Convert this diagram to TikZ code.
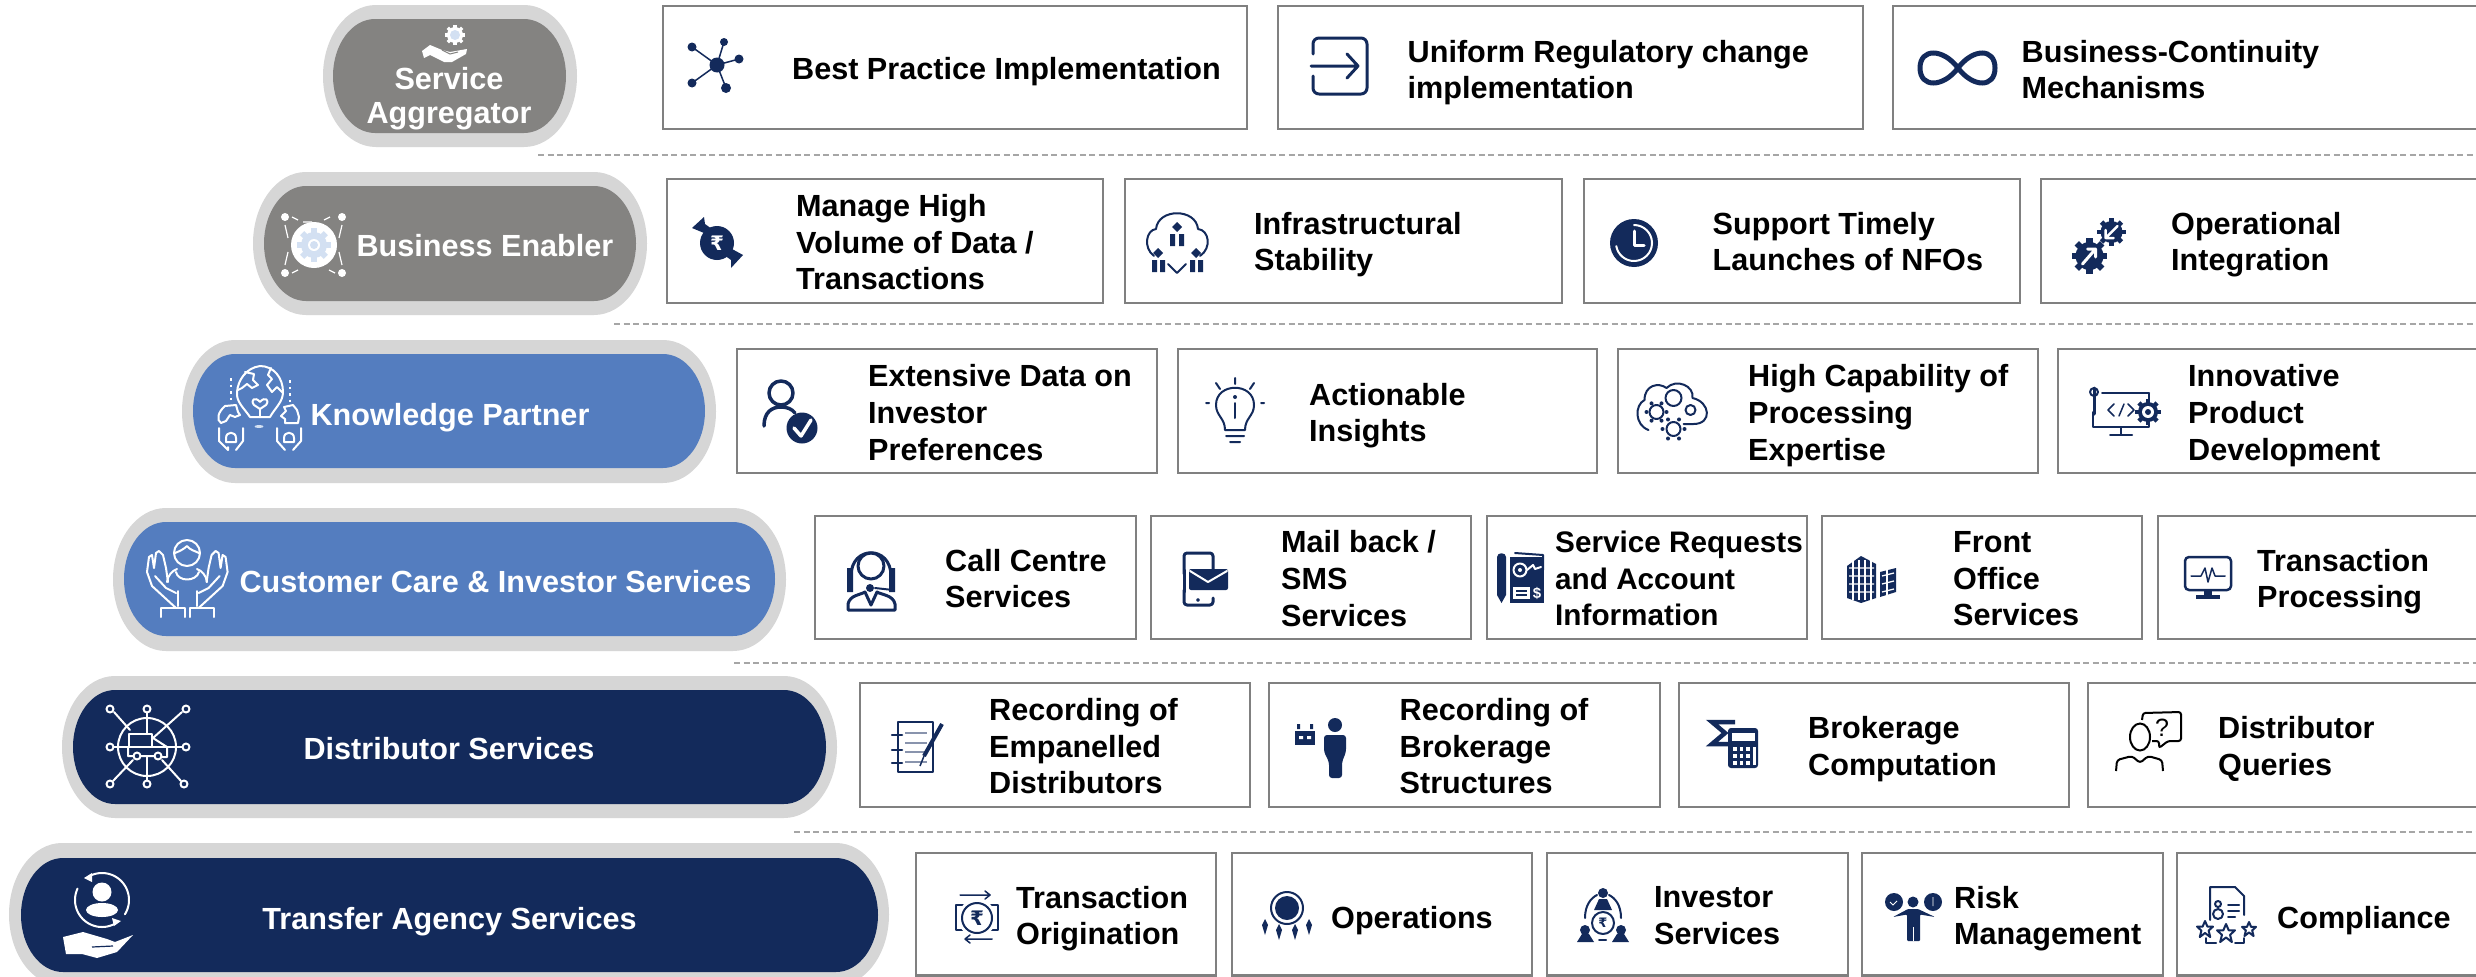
\documentclass[tikz,border=0pt]{standalone}
\usepackage{fontspec}
\setmainfont{Liberation Sans}
\newfontfamily\djv{DejaVu Sans}
\definecolor{navy}{HTML}{132A5B}
\definecolor{midblue}{HTML}{547DBF}
\definecolor{stone}{HTML}{848381}
\definecolor{halo}{HTML}{D6D6D6}
\definecolor{edge}{HTML}{808080}
\definecolor{dash}{HTML}{A6A6A6}
\definecolor{pale}{HTML}{D3E0F2}
\tikzset{
 cardbox/.style={draw=edge,line width=2.6pt,fill=white,anchor=north west,inner sep=0pt,outer sep=0pt},
 cardtext/.style={anchor=west,yshift=-5.5pt,inner sep=0pt,align=left,text=black,font=\fontsize{30.6}{36.7}\selectfont\bfseries,execute at begin node=\strut,execute at end node=\strut},
 pilltext/.style={yshift=-5.5pt,inner sep=0pt,align=center,text=white,font=\fontsize{30.6}{34}\selectfont\bfseries,execute at begin node=\strut,execute at end node=\strut},
 sep/.style={draw=dash,line width=2pt,dash pattern=on 6pt off 3.5pt},
 ic/.style={draw=navy,line width=2pt,line cap=round,line join=round},
 wl/.style={draw=white,line width=2pt,line cap=round,line join=round},
}
\newcommand\card[5]{\pgfmathsetmacro\cw{#4-#2}\pgfmathsetmacro\ch{#5-#3}%
 \node[cardbox,minimum width=\cw pt,minimum height=\ch pt] (#1) at (#2,#3) {};}
\newcommand\pillpath[6]{% x1 y1 x2 y2 rx colour
 \pgfmathsetmacro\pa{#1+#5}\pgfmathsetmacro\pb{#3-#5}\pgfmathsetmacro\pm{(#2+#4)/2}%
 \pgfmathsetmacro\pr{(#4-#2)/2*0.5523}\pgfmathsetmacro\pk{#5*0.5523}%
 \fill[#6] (\pa,#2) -- (\pb,#2) .. controls ({\pb+\pk},#2) and (#3,{\pm-\pr}) .. (#3,\pm)
  .. controls (#3,{\pm+\pr}) and ({\pb+\pk},#4) .. (\pb,#4) -- (\pa,#4)
  .. controls ({\pa-\pk},#4) and (#1,{\pm+\pr}) .. (#1,\pm)
  .. controls (#1,{\pm-\pr}) and ({\pa-\pk},#2) .. (\pa,#2) -- cycle;}
\newcommand\pillpair[9]{% outer x1 y1 x2 y2, inner x1 y1 x2 y2, colour
 \pillpath{#1}{#2}{#3}{#4}{53}{halo}\pillpath{#5}{#6}{#7}{#8}{42}{#9}}
\newcommand\cog[4]{\begin{scope}[shift={(#1,#2)}]
 \fill[#4] (0,0) circle[radius=#3];
 \foreach \a in {0,45,...,315}{\fill[#4,rotate=\a] ({-.22*#3},{-1.28*#3}) rectangle ({.22*#3},0);}
 \end{scope}}
\newcommand\ringcog[5]{\cog{#1}{#2}{#3}{#4}\fill[#5] (#1,#2) circle[radius={.6*#3}];}
\newcommand\dia[3]{\fill[navy] (#1,{#2-#3}) -- ({#1+#3},#2) -- (#1,{#2+#3}) -- ({#1-#3},#2) -- cycle;}
\begin{document}
\begin{tikzpicture}[x=1pt,y=-1pt]
\clip (0,0) rectangle (2476,977);
\fill[white] (0,0) rectangle (2476,977);
% separators
\foreach \n/\xs/\ys in {a/538/155,b/614/324,c/734/663,d/794/832}{
 \coordinate (s\n l) at (\xs,\ys); \coordinate (s\n r) at (2476,\ys);
 \draw[sep] (s\n l) -- (s\n r);}
% pills
\pillpair{323}{5}{577}{147}{333}{19}{566}{133}{stone}
\pillpair{253}{172}{647}{315}{264}{186}{636}{301}{stone}
\pillpair{182}{340}{716}{483}{193}{354}{705}{468}{midblue}
\pillpair{113}{508}{786}{651}{124}{522}{775}{636}{midblue}
\pillpair{62}{676}{837}{818}{73}{690}{826}{804}{navy}
\pillpair{9}{843}{889}{986}{21}{858}{878}{972}{navy}
\node[pilltext] (tAgg) at (449,95) {Service\\Aggregator};
\node[pilltext] (tBiz) at (485,244.5) {Business Enabler};
\node[pilltext] (tKno) at (450,413) {Knowledge Partner};
\node[pilltext] (tCus) at (495.5,580) {Customer Care \& Investor Services};
\node[pilltext] (tDis) at (449,747) {Distributor Services};
\node[pilltext] (tTra) at (449.5,917) {Transfer Agency Services};
% cards
\card{c11}{663}{6}{1247}{129}\card{c12}{1278}{6}{1863}{129}\card{c13}{1893}{6}{2500}{129}
\card{c21}{667}{179}{1103}{303}\card{c22}{1125}{179}{1562}{303}\card{c23}{1584}{179}{2020}{303}\card{c24}{2041}{179}{2500}{303}
\card{c31}{737}{349}{1157}{473}\card{c32}{1178}{349}{1597}{473}\card{c33}{1618}{349}{2038}{473}\card{c34}{2058}{349}{2500}{473}
\card{c41}{815}{516}{1136}{639}\card{c42}{1151}{516}{1471}{639}\card{c43}{1487}{516}{1807}{639}\card{c44}{1822}{516}{2142}{639}\card{c45}{2158}{516}{2500}{639}
\card{c51}{860}{683}{1250}{807}\card{c52}{1269}{683}{1660}{807}\card{c53}{1679}{683}{2069}{807}\card{c54}{2088}{683}{2500}{807}
\card{c61}{916}{853}{1216}{975.5}\card{c62}{1232}{853}{1532}{975.5}\card{c63}{1547}{853}{1848}{975.5}\card{c64}{1862}{853}{2163}{975.5}\card{c65}{2177}{853}{2500}{975.5}
% card texts
\node[cardtext,yshift=1.5pt] (x11) at (792,68) {Best Practice Implementation};
\node[cardtext] (x12) at (1407.5,69.5) {Uniform Regulatory change\\implementation};
\node[cardtext] (x13) at (2021.5,69.5) {Business-Continuity\\Mechanisms};
\node[cardtext] (x21) at (796,242) {Manage High\\Volume of Data /\\Transactions};
\node[cardtext] (x22) at (1254,241.5) {Infrastructural\\Stability};
\node[cardtext] (x23) at (1712.5,241.5) {Support Timely\\Launches of NFOs};
\node[cardtext] (x24) at (2171,241.5) {Operational\\Integration};
\node[cardtext] (x31) at (868,412.5) {Extensive Data on\\Investor\\Preferences};
\node[cardtext] (x32) at (1309,412.5) {Actionable\\Insights};
\node[cardtext] (x33) at (1748,412.5) {High Capability of\\Processing\\Expertise};
\node[cardtext] (x34) at (2188,412.5) {Innovative\\Product\\Development};
\node[cardtext] (x41) at (945,578.5) {Call Centre\\Services};
\node[cardtext] (x42) at (1281,578.5) {Mail back /\\SMS\\Services};
\node[cardtext,font=\fontsize{29.7}{36.7}\selectfont\bfseries] (x43) at (1555,578.5) {Service Requests\\and Account\\Information};
\node[cardtext] (x44) at (1953,578.5) {Front\\Office\\Services};
\node[cardtext] (x45) at (2257,578.5) {Transaction\\Processing};
\node[cardtext] (x51) at (989,746) {Recording of\\Empanelled\\Distributors};
\node[cardtext] (x52) at (1399.5,746) {Recording of\\Brokerage\\Structures};
\node[cardtext] (x53) at (1808,746) {Brokerage\\Computation};
\node[cardtext] (x54) at (2218,746) {Distributor\\Queries};
\node[cardtext] (x61) at (1016,915.5) {Transaction\\Origination};
\node[cardtext] (x62) at (1331,916) {Operations};
\node[cardtext] (x63) at (1654,915.5) {Investor\\Services};
\node[cardtext] (x64) at (1954,915.5) {Risk\\Management};
\node[cardtext] (x65) at (2277,916) {Compliance};
% ---- icons: navy
% hub
\foreach \x/\y/\r in {692/47/4.5,724/42/4,739/59/4.5,726/88/5,692/83/4.5}{\draw[ic,line width=1.5pt] (717,65)--(\x,\y); \fill[navy] (\x,\y) circle[radius=\r];}
\fill[navy] (717,65) circle[radius=7.5];
% exit
\draw[ic,line width=3pt,rounded corners=6pt] (1313,54)--(1313,38)--(1367,38)--(1367,94)--(1313,94)--(1313,76);
\draw[ic,line width=3pt] (1311,66)--(1358,66) (1347,54)--(1358,66)--(1347,78);
% infinity
\begin{scope}[xshift=-2pt]
\draw[navy,line width=5pt] (1960,68) .. controls (1945,48) and (1922,48) .. (1922,68) .. controls (1922,88) and (1945,88) .. (1960,68) .. controls (1975,48) and (1997,48) .. (1997,68) .. controls (1997,88) and (1975,88) .. (1960,68) -- cycle;
\end{scope}
% rupee swap
\fill[navy] (717,243) circle[radius=17];
\node[inner sep=0pt,text=white,font=\djv\fontsize{20}{20}\selectfont\bfseries] (rs) at (717,243) {₹};
\fill[navy] (692,228) -- (704,217) -- (705,224) -- (716,232) -- (708,236) -- (704,233) -- cycle;
\fill[navy] (743,255) -- (731,268) -- (731,260) -- (720,252) -- (728,248) -- (732,249) -- cycle;
% cloud
\draw[ic] (1154,256) .. controls (1143,248) and (1146,230) .. (1156,229) .. controls (1158,208) and (1196,208) .. (1198,229) .. controls (1209,230) and (1212,248) .. (1200,256);
\dia{1177}{227}{5}\dia{1158}{253}{5}\dia{1196}{253}{5}
\fill[navy] (1170,234) rectangle (1175,246) (1179,234) rectangle (1184,246) (1152,260) rectangle (1157,272) (1160,260) rectangle (1165,272) (1190,260) rectangle (1195,272) (1198,260) rectangle (1203,272);
\draw[ic] (1168,264)--(1177,273)--(1186,264);
% clock
\begin{scope}[xshift=-1pt]
\fill[navy] (1635,243) circle[radius=24];
\draw[wl] (1635,225) arc[start angle=-90,end angle=170,radius=18];
\draw[wl,line width=3pt] (1635,231)--(1635,245)--(1645,245);
\end{scope}
% cogs with arrows
\begin{scope}[xshift=-2.5pt]
\ringcog{2092}{256}{14}{navy}{navy}\ringcog{2114}{232}{11}{navy}{navy}
\draw[wl,line width=3pt] (2085,264)--(2098,249) (2090,249)--(2098,249)--(2098,257);
\draw[wl,line width=2.5pt] (2120,226)--(2108,238) (2116,238)--(2108,238)--(2108,230);
\end{scope}
% person check
\draw[ic,line width=3.5pt] (781,393) circle[radius=12];
\draw[ic,line width=3.5pt] (764,426) .. controls (764,412) and (772,407) .. (781,407) .. controls (787,407) and (792,409) .. (795,413);
\fill[navy] (802,428) circle[radius=15.5];
\draw[wl,line width=3.5pt] (794,428)--(801,436)--(811,420);
% bulb
\draw[ic] (1225,430) .. controls (1225,418) and (1216,416) .. (1216,405) .. controls (1216,382) and (1254,382) .. (1254,405) .. controls (1254,416) and (1245,418) .. (1245,430) -- cycle;
\draw[ic] (1226,436)--(1244,436) (1230,442)--(1240,442) (1235,378)--(1235,384) (1216,383)--(1220,389) (1254,383)--(1250,389) (1206,403)--(1209,403) (1261,403)--(1264,403);
\fill[navy] (1235,397) circle[radius=2];\draw[ic] (1235,403)--(1235,418);
% cloud gears
\begin{scope}[xshift=-1.5pt]
\draw[ic] (1650,430) .. controls (1636,425) and (1636,405) .. (1646,400) .. controls (1646,385) and (1660,382) .. (1668,388) .. controls (1678,378) and (1696,386) .. (1694,398) .. controls (1712,402) and (1714,424) .. (1695,424) -- (1685,424);
\draw[ic] (1658,412) circle[radius=7];\draw[ic] (1675,398) circle[radius=8];\draw[ic] (1692,410) circle[radius=5];\draw[ic] (1675,429) circle[radius=7];
\foreach \a in {0,60,...,300}{\fill[navy] ({1675+11*cos(\a)},{429+11*sin(\a)}) circle[radius=2];\fill[navy] ({1658+10*cos(\a)},{412+10*sin(\a)}) circle[radius=2];}
\end{scope}
% code monitor
\begin{scope}[xshift=-3pt]
\draw[ic] (2105,393)--(2152,393) (2152,393)--(2152,402) (2096,412)--(2096,427)--(2152,427)--(2152,420) (2124,427)--(2124,434) (2113,435)--(2135,435);
\draw[ic,line width=3pt] (2097,388)--(2097,414);
\draw[ic] (2097,392) circle[radius=4];
\draw[ic,line width=1.5pt] (2117,404)--(2111,410)--(2117,416) (2127,404)--(2122,416) (2131,404)--(2137,410)--(2131,416);
\ringcog{2151}{412}{10}{navy}{white}\fill[navy] (2151,412) circle[radius=3];
\end{scope}
% headset agent
\draw[ic,line width=3pt] (871,566) circle[radius=13];
\draw[ic,line width=3pt] (851,576) .. controls (851,545) and (891,545) .. (891,576);
\fill[navy] (847,568) rectangle (853,592) (889,568) rectangle (895,592);
\fill[navy] (870,588) circle[radius=4];\draw[ic] (893,590)--(875,588);
\draw[ic,line width=3pt] (848,610)--(848,604) .. controls (850,595) and (860,595) .. (865,592)--(871,605)--(877,592) .. controls (882,595) and (893,595) .. (895,604)--(895,610)--cycle;
% phone mail
\draw[ic,line width=3pt,rounded corners=3pt] (1184,574)--(1184,553)--(1213,553)--(1213,570);
\draw[ic,line width=3pt,rounded corners=3pt] (1184,590)--(1184,605)--(1213,605)--(1213,598);
\fill[navy,rounded corners=2pt] (1189,569) rectangle (1228,590);
\draw[wl] (1190,571)--(1208,582)--(1227,571);
\draw[ic] (1198,600) circle[radius=1];
\draw[ic,line width=3pt] (1184,570)--(1184,592);
% doc
\fill[navy] (1497,557) .. controls (1497,552) and (1506,552) .. (1506,557) -- (1506,595) -- (1501.5,603) -- (1497,595) -- cycle;
\draw[ic,line width=2pt] (1515,553)--(1543,555)--(1543,570);
\fill[navy] (1510,557) rectangle (1544,603);
\draw[wl,line width=2pt] (1520,570) circle[radius=6.5];
\fill[white] (1520,570) circle[radius=2];
\draw[wl,line width=2pt] (1527,570)--(1533,565)--(1535,569)--(1541,567);
\fill[white] (1513,587) rectangle (1530,599);
\draw[navy,line width=1.3pt] (1516,591)--(1527,591) (1516,595)--(1527,595);
\node[inner sep=0pt,text=white,font=\fontsize{15}{15}\selectfont\bfseries] (dsign) at (1537,593) {\$};
% building
\begin{scope}[xshift=-2pt]
\fill[navy] (1849,566)--(1863,556)--(1878,564)--(1878,598)--(1863,603)--(1849,598)--cycle;
\fill[navy] (1882,572)--(1898,568)--(1898,592)--(1882,597)--cycle;
\foreach \y in {568,576,584,592}{\draw[white,line width=1.3pt] (1851,\y)--(1876,\y) (1884,\y)--(1896,{\y-3});}
\foreach \x in {1855,1861,1867,1873,1889}{\draw[white,line width=1.3pt] (\x,560)--(\x,600);}
\end{scope}
% monitor pulse
\begin{scope}[xshift=-3pt]
\draw[ic,line width=2.5pt,rounded corners=4pt] (2188,557) rectangle (2234,590);
\draw[ic,line width=1.5pt] (2194,576)--(2204,576)--(2208,568)--(2211,582)--(2215,568)--(2218,576)--(2228,576);
\fill[navy] (2207,590) rectangle (2215,595);\fill[navy] (2199,595) rectangle (2223,599);
\end{scope}
% form pen
\draw[ic,line width=2pt] (898,722)--(933,722)--(933,772)--(898,772)--cycle;
\foreach \y in {733,743,752,762}{\draw[navy!50,line width=1.5pt] (905,\y)--(927,\y);}
\foreach \y in {735,750,763}{\draw[ic,line width=2.5pt] (892,\y)--(902,\y);}
\draw[navy,line width=4pt] (942,724)--(924,756);\draw[navy,line width=1.5pt] (924,756)--(920,766);
% broker
\fill[navy] (1335,725) ellipse[x radius=7,y radius=7];
\fill[navy,rounded corners=3pt] (1324,735)--(1346,735)--(1346,752)--(1342,762)--(1342,778)--(1329,778)--(1329,762)--(1324,752)--cycle;
\fill[navy] (1295,731) rectangle (1315,745);
\fill[white] (1299,736) rectangle (1303,739) (1307,736) rectangle (1311,739);
\fill[navy] (1297,724) rectangle (1300,729) (1310,724) rectangle (1313,729);
% calc sigma
\draw[navy,line width=4.5pt,line join=miter] (1735,722)--(1712,722)--(1725,733)--(1712,744)--(1729,744);
\fill[navy,rounded corners=3pt] (1728,728) rectangle (1758,768);
\fill[white] (1732,733) rectangle (1755,741);
\foreach \y in {747,754,761}{\foreach \x in {1733,1739.5,1746}{\fill[white] (\x,\y) rectangle ++(3.5,3.5);}}
\fill[white] (1752.5,747) rectangle (1755.5,764.5);
% queries
\draw[black,line width=2pt,rounded corners=2.5pt] (2142,720)--(2143,713)--(2181,712)--(2181,741)--(2168,741)--(2159,748)--(2159,741)--(2152,741);
\node[inner sep=0pt,text=black,font=\fontsize{25}{25}\selectfont] (qm) at (2162,728) {?};
\draw[black,line width=2pt] (2140,737) ellipse[x radius=10,y radius=13.5];
\draw[black,line width=2pt,line join=round,rounded corners=3pt] (2116,771)--(2117,760)--(2132,756)--(2140,763)--(2148,756)--(2162,760)--(2163,771);
% rupee exchange
\draw[ic,line width=2pt] (956,905) rectangle (998,930);
\fill[white] (977,918) circle[radius=19];
\draw[ic,line width=2pt] (977,918) circle[radius=15];
\node[inner sep=0pt,text=navy,font=\djv\fontsize{20}{20}\selectfont\bfseries] (rx) at (977,918) {₹};
\draw[ic,line width=1.5pt] (960,895)--(990,895) (985,891)--(990,895)--(985,899) (965,939)--(992,939) (965,939)--(970,935) (965,939)--(970,943);
% operations
\draw[ic,line width=2pt] (1287,908) circle[radius=16];\fill[navy] (1287,908) circle[radius=12];
\foreach \x/\y in {1265/925,1279/930,1295/930,1309/925}{\fill[navy] (\x,{\y-6})--({\x+3},\y)--(\x,{\y+10})--({\x-3},\y)--cycle;}
% investor services
\begin{scope}[xshift=-1pt]
\fill[navy] (1604,893) circle[radius=5];\fill[navy] (1595,910)--(1600,899)--(1608,899)--(1613,910)--cycle;
\draw[ic] (1586,918) .. controls (1586,905) and (1592,898) .. (1598,895) (1622,918) .. controls (1622,905) and (1616,898) .. (1610,895);
\draw[ic] (1604,923) circle[radius=11];
\node[inner sep=0pt,text=navy,font=\djv\fontsize{13}{13}\selectfont\bfseries] (rv) at (1604,923) {₹};
\fill[navy] (1586,930) circle[radius=5];\fill[navy] (1578,942)--(1583,934)--(1590,934)--(1595,942)--cycle;
\fill[navy] (1622,930) circle[radius=5];\fill[navy] (1613,942)--(1618,934)--(1625,934)--(1630,942)--cycle;
\draw[ic] (1600,940)--(1607,940);
\end{scope}
% risk
\fill[navy] (1894,902) circle[radius=9];\fill[navy] (1933,902) circle[radius=9];\fill[navy] (1913,902) circle[radius=5.5];
\draw[white,line width=.8pt] (1890,902)--(1893,905)--(1897,901) (1933,897)--(1933,906);
\fill[navy,rounded corners=1pt] (1893,917)--(1908,909)--(1918,909)--(1935,917)--(1920,914.5)--(1920,941)--(1907,941)--(1907,914.5)--cycle;
\draw[white,line width=.8pt] (1913.5,927)--(1913.5,941);
% compliance
\begin{scope}[xshift=-3pt]
\draw[ic] (2213,920)--(2213,887)--(2238,887)--(2247,896)--(2247,915);
\draw[ic] (2221,904) circle[radius=3] (2221,914) circle[radius=5];
\draw[ic] (2231,905)--(2242,905) (2231,911)--(2242,911) (2231,917)--(2238,917);
\foreach \x/\y/\r in {2208/929/8,2229/933/9,2252/929/7}{\draw[ic] (\x,{\y-\r})--({\x+.3*\r},{\y-.3*\r})--({\x+\r},{\y-.3*\r})--({\x+.45*\r},{\y+.2*\r})--({\x+.65*\r},{\y+\r})--(\x,{\y+.5*\r})--({\x-.65*\r},{\y+\r})--({\x-.45*\r},{\y+.2*\r})--({\x-\r},{\y-.3*\r})--({\x-.3*\r},{\y-.3*\r})--cycle;}
\draw[ic] (2209,938)--(2209,943)--(2219,943) (2238,943)--(2247,943)--(2247,938);
\end{scope}
% ---- icons: white
% service
\cog{455}{35}{8}{white}\fill[pale] (455,35) circle[radius=5];
\fill[white] (422,51)--(430,45)--(442,50)--(450,52)--(467,49)--(466,54)--(452,62)--(444,62)--(430,55)--(424,58)--cycle;
\draw[stone,line width=1pt] (442,50)--(450,54)--(458,52);
% business
\foreach \x/\y/\sx in {285/217/1,342/217/-1,285/273/1,342/273/-1}{\fill[white] (\x,\y) circle[radius=4];}
\draw[white,line width=1.2pt] (292,217)--(298,220) (303,222)--(312,222) (324,220)--(330,217) (285,225)--(288,238) (342,225)--(339,238) (285,265)--(288,252) (342,265)--(339,252) (292,273)--(298,270) (335,273)--(329,270);
\fill[white] (314,245) circle[radius=23];
\cog{314}{245}{13}{pale}\fill[white] (314,245) circle[radius=6];\fill[pale] (314,245) circle[radius=4];
% knowledge
\draw[wl] (250,417) .. controls (244,408) and (236,402) .. (237,392) .. controls (238,380) and (246,368) .. (260,366) .. controls (274,366) and (283,378) .. (283,392) .. controls (283,402) and (275,408) .. (270,417) -- cycle;
\draw[wl] (245,372)--(254,374)--(253,380)--(258,385)--(252,388)--(247,384)--(242,388)--(238,390);
\draw[wl] (271,368)--(268,375)--(272,379)--(267,385)--(272,392)--(277,387)--(283,393);
\draw[wl] (260,402) .. controls (255,396) and (250,400) .. (254,405) -- (260,409) -- (266,405) .. controls (270,400) and (265,396) .. (260,402);
\draw[wl] (260,409)--(260,417);
\draw[white,line width=2pt,dash pattern=on 2.5pt off 4pt] (231,378)--(231,400) (290,380)--(290,405);
\draw[wl] (221,423) .. controls (216,420) and (218,412) .. (225,406) -- (236,405) -- (238,412) -- (240,415) -- (235,417) -- (230,415) -- (226,421) -- cycle;
\draw[wl] (298,423)--(285,423)--(285,419)--(281,416)--(286,411)--(284,407)--(293,405)--(297,410)--(299,417)--cycle;
\draw[wl] (219,428)--(219,441)--(228,450)--(228,447) (243,428)--(243,441)--(236,450);
\draw[wl] (226,438) .. controls (226,431) and (236,431) .. (236,438)--(236,442)--(226,442)--cycle;
\draw[wl] (277,428)--(277,441)--(285,450) (301,428)--(301,441)--(293,450);
\draw[wl] (284,438) .. controls (284,431) and (294,431) .. (294,438)--(294,442)--(284,442)--cycle;
\fill[pale] (259,426.5) ellipse[x radius=4.5,y radius=1.5];
% customer
\draw[wl] (187,553) circle[radius=13];
\draw[wl] (175,553) .. controls (180,551) and (184,549) .. (187,546) .. controls (190,550) and (195,551) .. (199,553);
\draw[wl] (167,582) .. controls (168,575) and (172,571) .. (177,569);
\draw[wl] (207,582) .. controls (206,575) and (202,571) .. (197,569);
\draw[wl] (176,572) .. controls (178,582) and (196,582) .. (199,572);
\draw[wl] (178,591)--(178,606) (197,591)--(197,606);
\foreach \s/\o in {1/0,-1/374.6}{\begin{scope}[shift={(\o,0)},xscale=\s]
\draw[wl] (176,608) -- (152,586) -- (147,572) -- (149,557) -- (152,555) -- (154,568) -- (156,553) -- (159,551) -- (163,555) -- (166,568) -- (168,582);
\draw[wl] (155,576) -- (166,588) -- (176,593);
\draw[wl] (161,608) -- (185,608) -- (185,617) (161,608) -- (161,617);
\end{scope}}
% distributor
\draw[wl] (147,747) circle[radius=29];
\foreach \ax/\ay/\bx/\by in {147/712/147/734,114/712/130/730,182/712/153/738,113/747/129/747,152/747/183/747,147/756/147/781,133/760/113/781,162/760/181/781}{\draw[wl] (\ax,\ay)--(\bx,\by);}
\draw[wl] (129,734) rectangle (152,747);
\draw[wl] (128,747)--(128,756)--(133.5,756) (141,756)--(154.5,756) (153,738)--(167,747)--(167,757)--(161.5,757);
\foreach \x/\y in {137/756,158/756}{\draw[wl] (\x,\y) circle[radius=3.5];}
\foreach \x/\y in {110/709,147/709,186/709,110/747,186/747,110/784,147/784,184/784}{\fill[navy] (\x,\y) circle[radius=3.5];\draw[wl] (\x,\y) circle[radius=3.5];}
% transfer
\draw[wl] plot[domain=-118:32,samples=40,smooth] ({102+27*cos(\x)},{900+27*sin(\x)});
\draw[wl] plot[domain=60:205,samples=40,smooth] ({102+27*cos(\x)},{900+27*sin(\x)});
\fill[white] (84,878)--(92,873)--(92,882)--cycle;
\fill[white] (121,921)--(112,918)--(114,926)--cycle;
\fill[white] (102,892) circle[radius=9.5];
\fill[white] (102,910) ellipse[x radius=16,y radius=7];
\fill[white] (63,937)--(83,932)--(107,939)--(115,942)--(133,935)--(117,952)--(97,958)--(82,954)--(66,954)--cycle;
\draw[navy,line width=1.2pt] (92,947)--(113,946);
\end{tikzpicture}
\end{document}
